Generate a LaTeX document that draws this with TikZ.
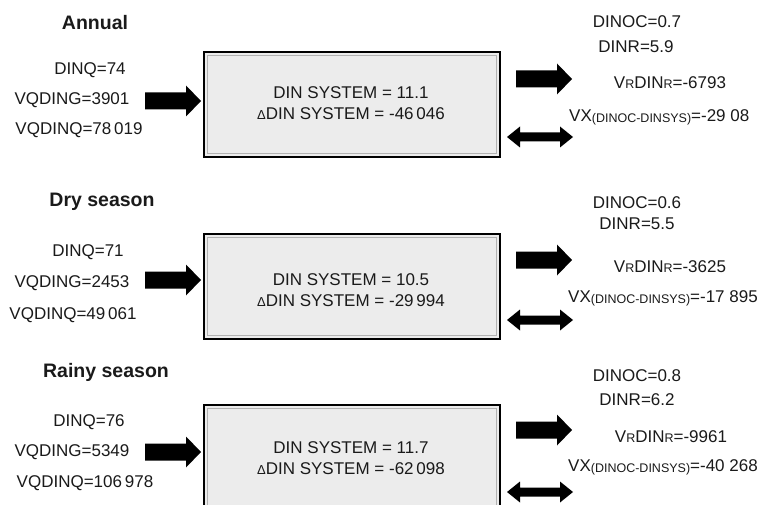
\documentclass[tikz,border=0pt]{standalone}
\usepackage{fontspec}
\setmainfont{Liberation Sans}
\definecolor{boxfill}{HTML}{ECECEC}
\definecolor{txt}{HTML}{1A1A1A}
\newcommand\bodyfont{\fontsize{17}{21}\selectfont}
\newcommand\smallcap[1]{{\fontsize{12.5}{12.5}\selectfont #1}}
\newcommand\subx[1]{\raisebox{-1pt}{\fontsize{12.5}{12.5}\selectfont #1}}
\newcommand\dlt{{\fontsize{13}{13}\selectfont Δ}}
\tikzset{
  lbl/.style={inner sep=0pt, text=txt, font=\bodyfont},
  ttl/.style={inner sep=0pt, text=txt, font=\fontsize{19.5}{22}\selectfont\bfseries},
  sysbox/.style={draw=black, line width=2pt, fill=boxfill, minimum width=296pt, minimum height=105pt, inner sep=0pt},
  inbox/.style={draw=gray!60, line width=0.6pt, minimum width=289pt, minimum height=98pt, inner sep=0pt},
  systxt/.style={inner sep=0pt, text=txt, font=\bodyfont, align=center},
  rarr/.pic={\fill[black] (0,-8.5) -- (41,-8.5) -- (41,-15.5) -- (56,0) -- (41,15.5) -- (41,8.5) -- (0,8.5) -- cycle;},
  darr/.pic={\fill[black] (0,0) -- (13,-10.5) -- (13,-4.5) -- (53,-4.5) -- (53,-10.5) -- (66,0) -- (53,10.5) -- (53,4.5) -- (13,4.5) -- (13,10.5) -- cycle;}
}
\begin{document}
\begin{tikzpicture}[x=1pt,y=-1pt]
\clip (0,0) rectangle (762,505);
\fill[white] (0,0) rectangle (762,505);

% ---------- Annual ----------
\node[ttl] (t1) at (95,23) {Annual};
\node[lbl] (a1) at (90,70) {DINQ=74};
\node[lbl] (a2) at (72,100) {VQDING=3901};
\node[lbl] (a3) at (79,130) {VQDINQ=78\,019};
\pic at (145,101) {rarr};
\node[sysbox] (b1) at (352,104.5) {};
\node[inbox] (b1i) at (352,104.5) {};
\node[systxt] (s1) at (351,103) {DIN SYSTEM = 11.1\\\dlt DIN SYSTEM = -46\,046};
\pic at (516,79) {rarr};
\pic at (507,137) {darr};
\node[lbl] (r11) at (637,22) {DINOC=0.7};
\node[lbl] (r12) at (636,47) {DINR=5.9};
\node[lbl] (r13) at (670,83) {V\smallcap{R}DIN\smallcap{R}=-6793};
\node[lbl, anchor=west] (r14) at (569,117) {VX\subx{(DINOC-DINSYS)}=-29 08};

% ---------- Dry season ----------
\node[ttl] (t2) at (102,202) {Dry season};
\node[lbl] (d1) at (88,252) {DINQ=71};
\node[lbl] (d2) at (72,283) {VQDING=2453};
\node[lbl] (d3) at (73,315) {VQDINQ=49\,061};
\pic at (145,280) {rarr};
\node[sysbox] (b2) at (352,286.5) {};
\node[inbox] (b2i) at (352,286.5) {};
\node[systxt] (s2) at (351,290) {DIN SYSTEM = 10.5\\\dlt DIN SYSTEM = -29\,994};
\pic at (516,260) {rarr};
\pic at (507,320) {darr};
\node[lbl] (r21) at (637,203) {DINOC=0.6};
\node[lbl] (r22) at (637,224) {DINR=5.5};
\node[lbl] (r23) at (670,267) {V\smallcap{R}DIN\smallcap{R}=-3625};
\node[lbl, anchor=west] (r24) at (568,298) {VX\subx{(DINOC-DINSYS)}=-17 895};

% ---------- Rainy season ----------
\node[ttl] (t3) at (106,372) {Rainy season};
\node[lbl] (w1) at (89,422) {DINQ=76};
\node[lbl] (w2) at (72,452) {VQDING=5349};
\node[lbl] (w3) at (85,483) {VQDINQ=106\,978};
\pic at (145,452) {rarr};
\node[sysbox] (b3) at (352,457.5) {};
\node[inbox] (b3i) at (352,457.5) {};
\node[systxt] (s3) at (351,458) {DIN SYSTEM = 11.7\\\dlt DIN SYSTEM = -62\,098};
\pic at (516,430) {rarr};
\pic at (507,492) {darr};
\node[lbl] (r31) at (637,376) {DINOC=0.8};
\node[lbl] (r32) at (637,400) {DINR=6.2};
\node[lbl] (r33) at (671,437) {V\smallcap{R}DIN\smallcap{R}=-9961};
\node[lbl, anchor=west] (r34) at (568,467) {VX\subx{(DINOC-DINSYS)}=-40 268};
\end{tikzpicture}
\end{document}
